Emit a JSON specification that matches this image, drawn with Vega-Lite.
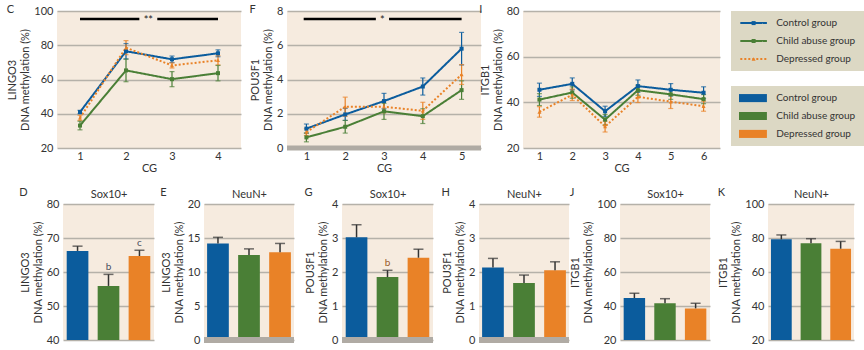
{
"$schema":"https://vega.github.io/schema/vega-lite/v6.json",
"padding":{"left":6,"top":4,"right":4,"bottom":4},
"background":"white",
"config":{
 "font":"Lato",
 "view":{"fill":"#f6ebdf","stroke":null},
 "axis":{"grid":false,"domain":false,"ticks":false,"tickCount":20,"labelFontSize":11,"labelColor":"#333","titleFontSize":11,"titleFontWeight":"normal","titleColor":"#333","labelPadding":4,"titlePadding":3},
 "axisY":{"grid":true,"gridColor":"#b5b1a9","gridWidth":1.5},
 "title":{"fontSize":11,"fontWeight":"normal","color":"#333","anchor":"start","frame":"bounds","offset":0}
},
"datasets":{
 "C":[
  {"cg":1,"group":"Control group","mean":41.0,"lo":40.0,"hi":42.0},
  {"cg":2,"group":"Control group","mean":76.5,"lo":72.0,"hi":81.0},
  {"cg":3,"group":"Control group","mean":71.8,"lo":69.9,"hi":73.7},
  {"cg":4,"group":"Control group","mean":75.3,"lo":73.3,"hi":77.3},
  {"cg":1,"group":"Child abuse group","mean":33.1,"lo":30.6,"hi":35.6},
  {"cg":2,"group":"Child abuse group","mean":65.3,"lo":58.7,"hi":71.9},
  {"cg":3,"group":"Child abuse group","mean":60.2,"lo":55.8,"hi":64.6},
  {"cg":4,"group":"Child abuse group","mean":63.7,"lo":59.2,"hi":68.2},
  {"cg":1,"group":"Depressed group","mean":37.6,"lo":36.1,"hi":39.1},
  {"cg":2,"group":"Depressed group","mean":78.6,"lo":74.5,"hi":82.7},
  {"cg":3,"group":"Depressed group","mean":68.2,"lo":66.7,"hi":69.7},
  {"cg":4,"group":"Depressed group","mean":71.2,"lo":68.5,"hi":73.9}
 ],
 "F":[
  {"cg":1,"group":"Control group","mean":1.13,"lo":0.86,"hi":1.40},
  {"cg":2,"group":"Control group","mean":1.96,"lo":1.61,"hi":2.31},
  {"cg":3,"group":"Control group","mean":2.74,"lo":2.29,"hi":3.19},
  {"cg":4,"group":"Control group","mean":3.59,"lo":3.09,"hi":4.09},
  {"cg":5,"group":"Control group","mean":5.80,"lo":4.85,"hi":6.75},
  {"cg":1,"group":"Child abuse group","mean":0.62,"lo":0.36,"hi":0.88},
  {"cg":2,"group":"Child abuse group","mean":1.24,"lo":0.87,"hi":1.61},
  {"cg":3,"group":"Child abuse group","mean":2.14,"lo":1.67,"hi":2.61},
  {"cg":4,"group":"Child abuse group","mean":1.86,"lo":1.43,"hi":2.29},
  {"cg":5,"group":"Child abuse group","mean":3.38,"lo":2.84,"hi":3.92},
  {"cg":1,"group":"Depressed group","mean":0.93,"lo":0.73,"hi":1.13},
  {"cg":2,"group":"Depressed group","mean":2.41,"lo":1.85,"hi":2.97},
  {"cg":3,"group":"Depressed group","mean":2.41,"lo":2.06,"hi":2.76},
  {"cg":4,"group":"Depressed group","mean":2.17,"lo":1.67,"hi":2.67},
  {"cg":5,"group":"Depressed group","mean":4.29,"lo":3.71,"hi":4.87}
 ],
 "I":[
  {"cg":1,"group":"Control group","mean":45.5,"lo":42.6,"hi":48.4},
  {"cg":2,"group":"Control group","mean":48.1,"lo":45.5,"hi":50.7},
  {"cg":3,"group":"Control group","mean":36.1,"lo":33.9,"hi":38.3},
  {"cg":4,"group":"Control group","mean":47.1,"lo":44.4,"hi":49.8},
  {"cg":5,"group":"Control group","mean":45.5,"lo":42.8,"hi":48.2},
  {"cg":6,"group":"Control group","mean":44.2,"lo":41.6,"hi":46.8},
  {"cg":1,"group":"Child abuse group","mean":41.2,"lo":38.6,"hi":43.8},
  {"cg":2,"group":"Child abuse group","mean":44.3,"lo":41.8,"hi":46.8},
  {"cg":3,"group":"Child abuse group","mean":32.4,"lo":30.1,"hi":34.7},
  {"cg":4,"group":"Child abuse group","mean":45.3,"lo":43.1,"hi":47.5},
  {"cg":5,"group":"Child abuse group","mean":43.5,"lo":41.3,"hi":45.7},
  {"cg":6,"group":"Child abuse group","mean":41.4,"lo":39.4,"hi":43.4},
  {"cg":1,"group":"Depressed group","mean":35.8,"lo":33.5,"hi":38.1},
  {"cg":2,"group":"Depressed group","mean":43.3,"lo":40.8,"hi":45.8},
  {"cg":3,"group":"Depressed group","mean":29.4,"lo":27.0,"hi":31.8},
  {"cg":4,"group":"Depressed group","mean":42.4,"lo":39.9,"hi":44.9},
  {"cg":5,"group":"Depressed group","mean":40.3,"lo":37.3,"hi":43.3},
  {"cg":6,"group":"Depressed group","mean":38.3,"lo":36.1,"hi":40.5}
 ],
 "D":[{"group":"Control group","value":66.2,"upper":67.6,"label":""},{"group":"Child abuse group","value":55.9,"upper":59.3,"label":"b"},{"group":"Depressed group","value":64.7,"upper":66.4,"label":"c"}],
 "E":[{"group":"Control group","value":14.2,"upper":15.1,"label":""},{"group":"Child abuse group","value":12.5,"upper":13.4,"label":""},{"group":"Depressed group","value":12.9,"upper":14.2,"label":""}],
 "G":[{"group":"Control group","value":3.02,"upper":3.39,"label":""},{"group":"Child abuse group","value":1.85,"upper":2.05,"label":"b"},{"group":"Depressed group","value":2.42,"upper":2.67,"label":""}],
 "H":[{"group":"Control group","value":2.13,"upper":2.40,"label":""},{"group":"Child abuse group","value":1.68,"upper":1.91,"label":""},{"group":"Depressed group","value":2.05,"upper":2.30,"label":""}],
 "J":[{"group":"Control group","value":44.7,"upper":47.5,"label":""},{"group":"Child abuse group","value":41.6,"upper":44.3,"label":""},{"group":"Depressed group","value":38.6,"upper":41.6,"label":""}],
 "K":[{"group":"Control group","value":79.2,"upper":81.8,"label":""},{"group":"Child abuse group","value":76.9,"upper":79.6,"label":""},{"group":"Depressed group","value":73.7,"upper":78.0,"label":""}],
 "groups":[{"group":"Control group"},{"group":"Child abuse group"},{"group":"Depressed group"}],
 "blank":[{}]
},
"spacing":14,
"vconcat":[
 {"bounds":"flush","spacing":0,"hconcat":[
  {"width":184,"height":137,"title":{"text":"C","dy":14},"data":{"name":"C"},
   "layer":[
    {"mark":{"type":"rule","strokeWidth":1.2},"encoding":{"x":{"field":"cg","type":"quantitative","scale":{"domain":[0.71,4.29]},"axis":{"values":[1,2,3,4],"format":"d","title":"CG","labelPadding":2,"titlePadding":1}},"y":{"field":"lo","type":"quantitative","scale":{"domain":[20,100]},"axis":{"values":[20,40,60,80,100],"format":"d","title":["LINGO3","DNA methylation (%)"]}},"y2":{"field":"hi"},"color":{"field":"group","type":"nominal","scale":{"domain":["Control group","Child abuse group","Depressed group"],"range":["#0b5c9d","#4a7f36","#e98227"]},"legend":null}}},
    {"mark":{"type":"tick","orient":"horizontal","size":5,"thickness":1.2},"encoding":{"x":{"field":"cg","type":"quantitative"},"y":{"field":"lo","type":"quantitative"},"color":{"field":"group","type":"nominal","legend":null}}},
    {"mark":{"type":"tick","orient":"horizontal","size":5,"thickness":1.2},"encoding":{"x":{"field":"cg","type":"quantitative"},"y":{"field":"hi","type":"quantitative"},"color":{"field":"group","type":"nominal","legend":null}}},
    {"mark":{"type":"line"},"encoding":{"x":{"field":"cg","type":"quantitative"},"y":{"field":"mean","type":"quantitative"},"color":{"field":"group","type":"nominal","legend":null},"strokeDash":{"field":"group","type":"nominal","scale":{"domain":["Control group","Child abuse group","Depressed group"],"range":[[1,0],[1,0],[2,2]]},"legend":null},"strokeWidth":{"field":"group","type":"nominal","scale":{"domain":["Control group","Child abuse group","Depressed group"],"range":[2,2,1.3]},"legend":null}}},
    {"mark":{"type":"point","filled":true,"opacity":1,"size":16},"encoding":{"x":{"field":"cg","type":"quantitative"},"y":{"field":"mean","type":"quantitative"},"color":{"field":"group","type":"nominal","legend":null},"shape":{"field":"group","type":"nominal","scale":{"domain":["Control group","Child abuse group","Depressed group"],"range":["square","square","triangle-up"]},"legend":null}}},
    {"data":{"values":[{"x":1,"x2":2.29,"y":95.3},{"x":2.68,"x2":4,"y":95.3}]},"mark":{"type":"rule","color":"black","strokeWidth":2.5},"encoding":{"x":{"field":"x","type":"quantitative"},"x2":{"field":"x2"},"y":{"field":"y","type":"quantitative"}}},
    {"data":{"values":[{"x":2.485,"y":95.3,"label":"**"}]},"mark":{"type":"text","fontSize":11,"color":"#222","dy":2},"encoding":{"x":{"field":"x","type":"quantitative"},"y":{"field":"y","type":"quantitative"},"text":{"field":"label"}}}
   ]},
  {"width":46,"height":1,"view":{"fill":null,"stroke":null},"data":{"name":"blank"},"mark":{"type":"point","opacity":0},"encoding":{}},
  {"width":194,"height":137,"title":{"text":"F","dy":14},"data":{"name":"F"},
   "layer":[
    {"mark":{"type":"rule","strokeWidth":1.2},"encoding":{"x":{"field":"cg","type":"quantitative","scale":{"domain":[0.706,5.45]},"axis":{"values":[1,2,3,4,5],"format":"d","title":"CG","labelPadding":2,"titlePadding":1}},"y":{"field":"lo","type":"quantitative","scale":{"domain":[0,8]},"axis":{"values":[0,2,4,6,8],"format":"d","title":["POU3F1","DNA methylation (%)"]}},"y2":{"field":"hi"},"color":{"field":"group","type":"nominal","scale":{"domain":["Control group","Child abuse group","Depressed group"],"range":["#0b5c9d","#4a7f36","#e98227"]},"legend":null}}},
    {"mark":{"type":"tick","orient":"horizontal","size":5,"thickness":1.2},"encoding":{"x":{"field":"cg","type":"quantitative"},"y":{"field":"lo","type":"quantitative"},"color":{"field":"group","type":"nominal","legend":null}}},
    {"mark":{"type":"tick","orient":"horizontal","size":5,"thickness":1.2},"encoding":{"x":{"field":"cg","type":"quantitative"},"y":{"field":"hi","type":"quantitative"},"color":{"field":"group","type":"nominal","legend":null}}},
    {"mark":{"type":"line"},"encoding":{"x":{"field":"cg","type":"quantitative"},"y":{"field":"mean","type":"quantitative"},"color":{"field":"group","type":"nominal","legend":null},"strokeDash":{"field":"group","type":"nominal","scale":{"domain":["Control group","Child abuse group","Depressed group"],"range":[[1,0],[1,0],[2,2]]},"legend":null},"strokeWidth":{"field":"group","type":"nominal","scale":{"domain":["Control group","Child abuse group","Depressed group"],"range":[2,2,1.3]},"legend":null}}},
    {"mark":{"type":"point","filled":true,"opacity":1,"size":16},"encoding":{"x":{"field":"cg","type":"quantitative"},"y":{"field":"mean","type":"quantitative"},"color":{"field":"group","type":"nominal","legend":null},"shape":{"field":"group","type":"nominal","scale":{"domain":["Control group","Child abuse group","Depressed group"],"range":["square","square","triangle-up"]},"legend":null}}},
    {"data":{"values":[{"x":0.93,"x2":2.79,"y":7.54},{"x":3.13,"x2":5.0,"y":7.54}]},"mark":{"type":"rule","color":"black","strokeWidth":2.5},"encoding":{"x":{"field":"x","type":"quantitative"},"x2":{"field":"x2"},"y":{"field":"y","type":"quantitative"}}},
    {"data":{"values":[{"x":2.96,"y":7.54,"label":"*"}]},"mark":{"type":"text","fontSize":11,"color":"#222","dy":2},"encoding":{"x":{"field":"x","type":"quantitative"},"y":{"field":"y","type":"quantitative"},"text":{"field":"label"}}},
    {"data":{"values":[{}]},"mark":{"type":"rule","color":"#b0aba4","strokeWidth":5},"encoding":{"y":{"datum":0}}}
   ]},
  {"width":42,"height":1,"view":{"fill":null,"stroke":null},"data":{"name":"blank"},"mark":{"type":"point","opacity":0},"encoding":{}},
  {"width":197,"height":137,"title":{"text":"I","dy":14},"data":{"name":"I"},
   "layer":[
    {"mark":{"type":"rule","strokeWidth":1.2},"encoding":{"x":{"field":"cg","type":"quantitative","scale":{"domain":[0.62,6.39]},"axis":{"values":[1,2,3,4,5,6],"format":"d","title":"CG","labelPadding":2,"titlePadding":1}},"y":{"field":"lo","type":"quantitative","scale":{"domain":[20,80]},"axis":{"values":[20,40,60,80],"format":"d","title":["ITGB1","DNA methylation (%)"]}},"y2":{"field":"hi"},"color":{"field":"group","type":"nominal","scale":{"domain":["Control group","Child abuse group","Depressed group"],"range":["#0b5c9d","#4a7f36","#e98227"]},"legend":null}}},
    {"mark":{"type":"tick","orient":"horizontal","size":5,"thickness":1.2},"encoding":{"x":{"field":"cg","type":"quantitative"},"y":{"field":"lo","type":"quantitative"},"color":{"field":"group","type":"nominal","legend":null}}},
    {"mark":{"type":"tick","orient":"horizontal","size":5,"thickness":1.2},"encoding":{"x":{"field":"cg","type":"quantitative"},"y":{"field":"hi","type":"quantitative"},"color":{"field":"group","type":"nominal","legend":null}}},
    {"mark":{"type":"line"},"encoding":{"x":{"field":"cg","type":"quantitative"},"y":{"field":"mean","type":"quantitative"},"color":{"field":"group","type":"nominal","legend":null},"strokeDash":{"field":"group","type":"nominal","scale":{"domain":["Control group","Child abuse group","Depressed group"],"range":[[1,0],[1,0],[2,2]]},"legend":null},"strokeWidth":{"field":"group","type":"nominal","scale":{"domain":["Control group","Child abuse group","Depressed group"],"range":[2,2,1.3]},"legend":null}}},
    {"mark":{"type":"point","filled":true,"opacity":1,"size":16},"encoding":{"x":{"field":"cg","type":"quantitative"},"y":{"field":"mean","type":"quantitative"},"color":{"field":"group","type":"nominal","legend":null},"shape":{"field":"group","type":"nominal","scale":{"domain":["Control group","Child abuse group","Depressed group"],"range":["square","square","triangle-up"]},"legend":null}}}
   ]},
  {"width":11,"height":1,"view":{"fill":null,"stroke":null},"data":{"name":"blank"},"mark":{"type":"point","opacity":0},"encoding":{}},
  {"bounds":"flush","spacing":15,"vconcat":[
   {"width":133,"height":60,"view":{"fill":"#dcd8c4","stroke":null},"data":{"name":"groups"},
    "encoding":{"y":{"field":"group","type":"nominal","sort":["Control group","Child abuse group","Depressed group"],"scale":{"paddingInner":0.55,"paddingOuter":0.45},"axis":null}},
    "layer":[
     {"mark":{"type":"rule"},"encoding":{"x":{"datum":0.07,"type":"quantitative","scale":{"domain":[0,1]},"axis":null},"x2":{"datum":0.27},"color":{"field":"group","type":"nominal","scale":{"domain":["Control group","Child abuse group","Depressed group"],"range":["#0b5c9d","#4a7f36","#e98227"]},"legend":null},"strokeDash":{"field":"group","type":"nominal","scale":{"domain":["Control group","Child abuse group","Depressed group"],"range":[[1,0],[1,0],[2,2]]},"legend":null},"strokeWidth":{"field":"group","type":"nominal","scale":{"domain":["Control group","Child abuse group","Depressed group"],"range":[2,2,1.3]},"legend":null}}},
     {"mark":{"type":"point","filled":true,"opacity":1,"size":16},"encoding":{"x":{"datum":0.17,"type":"quantitative"},"color":{"field":"group","type":"nominal","legend":null},"shape":{"field":"group","type":"nominal","scale":{"domain":["Control group","Child abuse group","Depressed group"],"range":["square","square","triangle-up"]},"legend":null}}},
     {"mark":{"type":"text","align":"left","fontSize":10,"color":"#333"},"encoding":{"x":{"datum":0.34,"type":"quantitative"},"text":{"field":"group"}}}
    ]},
   {"width":133,"height":60,"view":{"fill":"#dcd8c4","stroke":null},"data":{"name":"groups"},
    "encoding":{"y":{"field":"group","type":"nominal","sort":["Control group","Child abuse group","Depressed group"],"scale":{"paddingInner":0.55,"paddingOuter":0.45},"axis":null}},
    "layer":[
     {"mark":{"type":"bar"},"encoding":{"x":{"datum":0.06,"type":"quantitative","scale":{"domain":[0,1]},"axis":null},"x2":{"datum":0.27},"color":{"field":"group","type":"nominal","scale":{"domain":["Control group","Child abuse group","Depressed group"],"range":["#0b5c9d","#4a7f36","#e98227"]},"legend":null}}},
     {"mark":{"type":"text","align":"left","fontSize":10,"color":"#333"},"encoding":{"x":{"datum":0.34,"type":"quantitative"},"text":{"field":"group"}}}
    ]}
  ]}
 ]},
 {"bounds":"flush","spacing":0,"hconcat":[
  {"width":6,"height":1,"view":{"fill":"#ffffff","stroke":null},"data":{"name":"blank"},"mark":{"type":"point","opacity":0},"encoding":{}},
  {"width":91,"height":136,"title":{"text":"D","dy":14},"data":{"name":"D"},
   "layer":[
    {"mark":{"type":"bar","clip":true},"encoding":{"x":{"field":"group","type":"nominal","sort":["Control group","Child abuse group","Depressed group"],"scale":{"paddingInner":0.3,"paddingOuter":0.12},"axis":{"orient":"top","title":"Sox10+","labels":false,"titlePadding":5}},"y":{"field":"value","type":"quantitative","scale":{"domain":[40,80]},"axis":{"values":[40,50,60,70,80],"format":"d","title":["LINGO3","DNA methylation (%)"]}},"color":{"field":"group","type":"nominal","scale":{"domain":["Control group","Child abuse group","Depressed group"],"range":["#0b5c9d","#4a7f36","#e98227"]},"legend":null}}},
    {"mark":{"type":"rule","color":"#333","strokeWidth":1.5},"encoding":{"x":{"field":"group","type":"nominal","sort":["Control group","Child abuse group","Depressed group"]},"y":{"field":"value","type":"quantitative"},"y2":{"field":"upper"}}},
    {"mark":{"type":"tick","orient":"horizontal","color":"#333","thickness":1.5,"size":10},"encoding":{"x":{"field":"group","type":"nominal","sort":["Control group","Child abuse group","Depressed group"]},"y":{"field":"upper","type":"quantitative"}}},
    {"mark":{"type":"text","dy":-7,"color":"#4a4f5e","fontSize":10},"encoding":{"x":{"field":"group","type":"nominal","sort":["Control group","Child abuse group","Depressed group"]},"y":{"field":"upper","type":"quantitative"},"text":{"field":"label"}}}
   ]},
  {"width":50,"height":1,"view":{"fill":null,"stroke":null},"data":{"name":"blank"},"mark":{"type":"point","opacity":0},"encoding":{}},
  {"width":90,"height":136,"title":{"text":"E","dy":14},"data":{"name":"E"},
   "layer":[
    {"mark":{"type":"bar","clip":true},"encoding":{"x":{"field":"group","type":"nominal","sort":["Control group","Child abuse group","Depressed group"],"scale":{"paddingInner":0.3,"paddingOuter":0.1},"axis":{"orient":"top","title":"NeuN+","labels":false,"titlePadding":5}},"y":{"field":"value","type":"quantitative","scale":{"domain":[0,20]},"axis":{"values":[0,5,10,15,20],"format":"d","title":["LINGO3","DNA methylation (%)"]}},"color":{"field":"group","type":"nominal","scale":{"domain":["Control group","Child abuse group","Depressed group"],"range":["#0b5c9d","#4a7f36","#e98227"]},"legend":null}}},
    {"mark":{"type":"rule","color":"#333","strokeWidth":1.5},"encoding":{"x":{"field":"group","type":"nominal","sort":["Control group","Child abuse group","Depressed group"]},"y":{"field":"value","type":"quantitative"},"y2":{"field":"upper"}}},
    {"mark":{"type":"tick","orient":"horizontal","color":"#333","thickness":1.5,"size":10},"encoding":{"x":{"field":"group","type":"nominal","sort":["Control group","Child abuse group","Depressed group"]},"y":{"field":"upper","type":"quantitative"}}},
    {"data":{"values":[{}]},"mark":{"type":"rule","color":"#b0aba4","strokeWidth":6},"encoding":{"y":{"datum":0}}}
   ]},
  {"width":48,"height":1,"view":{"fill":null,"stroke":null},"data":{"name":"blank"},"mark":{"type":"point","opacity":0},"encoding":{}},
  {"width":91,"height":136,"title":{"text":"G","dy":14},"data":{"name":"G"},
   "layer":[
    {"mark":{"type":"bar","clip":true},"encoding":{"x":{"field":"group","type":"nominal","sort":["Control group","Child abuse group","Depressed group"],"scale":{"paddingInner":0.3,"paddingOuter":0.12},"axis":{"orient":"top","title":"Sox10+","labels":false,"titlePadding":5}},"y":{"field":"value","type":"quantitative","scale":{"domain":[0,4]},"axis":{"values":[0,1,2,3,4],"format":"d","title":["POU3F1","DNA methylation (%)"]}},"color":{"field":"group","type":"nominal","scale":{"domain":["Control group","Child abuse group","Depressed group"],"range":["#0b5c9d","#4a7f36","#e98227"]},"legend":null}}},
    {"mark":{"type":"rule","color":"#333","strokeWidth":1.5},"encoding":{"x":{"field":"group","type":"nominal","sort":["Control group","Child abuse group","Depressed group"]},"y":{"field":"value","type":"quantitative"},"y2":{"field":"upper"}}},
    {"mark":{"type":"tick","orient":"horizontal","color":"#333","thickness":1.5,"size":10},"encoding":{"x":{"field":"group","type":"nominal","sort":["Control group","Child abuse group","Depressed group"]},"y":{"field":"upper","type":"quantitative"}}},
    {"mark":{"type":"text","dy":-7,"color":"#9a5a2a","fontSize":10},"encoding":{"x":{"field":"group","type":"nominal","sort":["Control group","Child abuse group","Depressed group"]},"y":{"field":"upper","type":"quantitative"},"text":{"field":"label"}}},
    {"data":{"values":[{}]},"mark":{"type":"rule","color":"#b0aba4","strokeWidth":6},"encoding":{"y":{"datum":0}}}
   ]},
  {"width":46,"height":1,"view":{"fill":null,"stroke":null},"data":{"name":"blank"},"mark":{"type":"point","opacity":0},"encoding":{}},
  {"width":90,"height":136,"title":{"text":"H","dy":14},"data":{"name":"H"},
   "layer":[
    {"mark":{"type":"bar","clip":true},"encoding":{"x":{"field":"group","type":"nominal","sort":["Control group","Child abuse group","Depressed group"],"scale":{"paddingInner":0.3,"paddingOuter":0.1},"axis":{"orient":"top","title":"NeuN+","labels":false,"titlePadding":5}},"y":{"field":"value","type":"quantitative","scale":{"domain":[0,4]},"axis":{"values":[0,1,2,3,4],"format":"d","title":["POU3F1","DNA methylation (%)"]}},"color":{"field":"group","type":"nominal","scale":{"domain":["Control group","Child abuse group","Depressed group"],"range":["#0b5c9d","#4a7f36","#e98227"]},"legend":null}}},
    {"mark":{"type":"rule","color":"#333","strokeWidth":1.5},"encoding":{"x":{"field":"group","type":"nominal","sort":["Control group","Child abuse group","Depressed group"]},"y":{"field":"value","type":"quantitative"},"y2":{"field":"upper"}}},
    {"mark":{"type":"tick","orient":"horizontal","color":"#333","thickness":1.5,"size":10},"encoding":{"x":{"field":"group","type":"nominal","sort":["Control group","Child abuse group","Depressed group"]},"y":{"field":"upper","type":"quantitative"}}},
    {"data":{"values":[{}]},"mark":{"type":"rule","color":"#b0aba4","strokeWidth":6},"encoding":{"y":{"datum":0}}}
   ]},
  {"width":51,"height":1,"view":{"fill":null,"stroke":null},"data":{"name":"blank"},"mark":{"type":"point","opacity":0},"encoding":{}},
  {"width":90,"height":136,"title":{"text":"J","dy":14},"data":{"name":"J"},
   "layer":[
    {"mark":{"type":"bar","clip":true},"encoding":{"x":{"field":"group","type":"nominal","sort":["Control group","Child abuse group","Depressed group"],"scale":{"paddingInner":0.3,"paddingOuter":0.12},"axis":{"orient":"top","title":"Sox10+","labels":false,"titlePadding":5}},"y":{"field":"value","type":"quantitative","scale":{"domain":[20,100]},"axis":{"values":[20,40,60,80,100],"format":"d","title":["ITGB1","DNA methylation (%)"]}},"color":{"field":"group","type":"nominal","scale":{"domain":["Control group","Child abuse group","Depressed group"],"range":["#0b5c9d","#4a7f36","#e98227"]},"legend":null}}},
    {"mark":{"type":"rule","color":"#333","strokeWidth":1.5},"encoding":{"x":{"field":"group","type":"nominal","sort":["Control group","Child abuse group","Depressed group"]},"y":{"field":"value","type":"quantitative"},"y2":{"field":"upper"}}},
    {"mark":{"type":"tick","orient":"horizontal","color":"#333","thickness":1.5,"size":10},"encoding":{"x":{"field":"group","type":"nominal","sort":["Control group","Child abuse group","Depressed group"]},"y":{"field":"upper","type":"quantitative"}}}
   ]},
  {"width":58,"height":1,"view":{"fill":null,"stroke":null},"data":{"name":"blank"},"mark":{"type":"point","opacity":0},"encoding":{}},
  {"width":86,"height":136,"title":{"text":"K","dy":14},"data":{"name":"K"},
   "layer":[
    {"mark":{"type":"bar","clip":true},"encoding":{"x":{"field":"group","type":"nominal","sort":["Control group","Child abuse group","Depressed group"],"scale":{"paddingInner":0.3,"paddingOuter":0.1},"axis":{"orient":"top","title":"NeuN+","labels":false,"titlePadding":5}},"y":{"field":"value","type":"quantitative","scale":{"domain":[20,100]},"axis":{"values":[20,40,60,80,100],"format":"d","title":["ITGB1","DNA methylation (%)"]}},"color":{"field":"group","type":"nominal","scale":{"domain":["Control group","Child abuse group","Depressed group"],"range":["#0b5c9d","#4a7f36","#e98227"]},"legend":null}}},
    {"mark":{"type":"rule","color":"#333","strokeWidth":1.5},"encoding":{"x":{"field":"group","type":"nominal","sort":["Control group","Child abuse group","Depressed group"]},"y":{"field":"value","type":"quantitative"},"y2":{"field":"upper"}}},
    {"mark":{"type":"tick","orient":"horizontal","color":"#333","thickness":1.5,"size":10},"encoding":{"x":{"field":"group","type":"nominal","sort":["Control group","Child abuse group","Depressed group"]},"y":{"field":"upper","type":"quantitative"}}}
   ]}
 ]}
]
}
